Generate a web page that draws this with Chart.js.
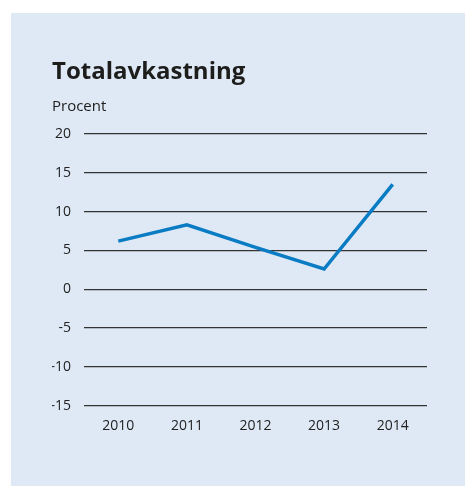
<!DOCTYPE html>
<html>
<head>
<meta charset="utf-8">
<script src="https://cdn.jsdelivr.net/npm/chart.js@4.4.1/dist/chart.umd.min.js"></script>
<style>
  html, body { margin: 0; padding: 0; background: #ffffff; }
  body { width: 465px; height: 486px; position: relative; overflow: hidden; }
  #panel { position: absolute; left: 11px; top: 13px; width: 454px; height: 473px; background: #dfe9f5; }
  #c { display: block; }
</style>
</head>
<body>
<div id="panel"><canvas id="c" width="454" height="473"></canvas></div>
<script>
const categories = ['2010', '2011', '2012', '2013', '2014'];
const totalReturn = [6.2, 8.3, 5.4, 2.6, 13.5];
const yTicks = [20, 15, 10, 5, 0, -5, -10, -15];
const titleText = 'Totalavkastning';
const unitText = 'Procent';

const FONT = "'Open Sans', 'Noto Sans', sans-serif";

new Chart(document.getElementById('c'), {
  type: 'line',
  data: {
    labels: categories,
    datasets: [{
      label: titleText,
      data: totalReturn,
      borderColor: '#0a7cc4',
      borderWidth: 3.5,
      pointRadius: 0,
      pointHoverRadius: 0,
      tension: 0,
      fill: false,
      borderCapStyle: 'butt',
      borderJoinStyle: 'miter'
    }]
  },
  options: {
    responsive: false,
    animation: false,
    events: [],
    layout: { padding: { left: 41, right: 38, top: 0, bottom: 51.1 } },
    plugins: {
      legend: { display: false },
      tooltip: { enabled: false },
      title: {
        display: true,
        text: titleText,
        align: 'start',
        color: '#1d1d1b',
        font: { family: FONT, size: 24, weight: 'bold', lineHeight: 1.2 },
        padding: { top: 44.3, bottom: 11.4 }
      },
      subtitle: {
        display: true,
        text: unitText,
        align: 'start',
        color: '#1d1d1b',
        font: { family: FONT, size: 15, weight: 'normal', lineHeight: 1.2 },
        padding: { top: 0, bottom: 18.5 }
      }
    },
    scales: {
      x: {
        offset: true,
        grid: { display: false, drawTicks: false },
        border: { display: false },
        ticks: {
          color: '#222222',
          font: { family: FONT, size: 14, lineHeight: 1.2 },
          padding: 12.5,
          maxRotation: 0
        },
        afterFit(scale) { scale.height = 29.3; }
      },
      y: {
        min: -15,
        max: 20,
        afterBuildTicks(scale) { scale.ticks = yTicks.map(v => ({ value: v })); },
        grid: { color: '#333333', lineWidth: 1.2, drawTicks: false },
        border: { display: false },
        ticks: {
          color: '#222222',
          font: { family: FONT, size: 14, lineHeight: 1.2 },
          padding: 13
        },
        afterFit(scale) { scale.width = 32; }
      }
    }
  }
});
</script>
</body>
</html>
